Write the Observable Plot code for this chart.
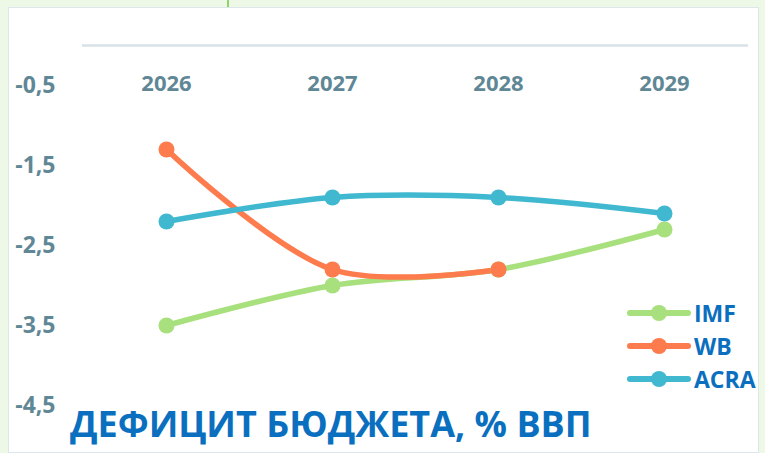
<!DOCTYPE html>
<html>
<head>
<meta charset="utf-8">
<script src="https://cdn.jsdelivr.net/npm/d3@7"></script>
<script src="https://cdn.jsdelivr.net/npm/@observablehq/plot@0.6"></script>
<style>
  html, body { margin: 0; padding: 0; background: #eef8e7; }
  #wrap { position: relative; width: 765px; height: 453px; overflow: hidden; background: #eef8e7; font-family: "Open Sans", sans-serif; }
  #panel { position: absolute; left: 8px; top: 7px; width: 751px; height: 446px; background: #fff; border: 1.5px solid #dde6ea; box-sizing: border-box; }
  #tick { position: absolute; left: 227px; top: 0; width: 2px; height: 7px; background: #8fd36a; }
  #chart { position: absolute; left: 0; top: 0; }
  #title { position: absolute; left: 70px; top: 399px; font-weight: 700; font-size: 36px; color: #0b6fbf; white-space: nowrap; letter-spacing: 0px; }
  #legend { position: absolute; left: 626px; top: 296px; }
  .row { display: flex; align-items: center; height: 33px; }
  .row span { font-weight: 700; font-size: 23px; color: #0b6fbf; margin-left: 2px; }
</style>
</head>
<body>
<div id="wrap">
  <div id="panel"></div>
  <div id="tick"></div>
  <div id="chart"></div>
  <div id="title"></div>
  <div id="legend"></div>
</div>
<script>
const years = [2026, 2027, 2028, 2029];
const imf  = [-3.5, -3.0, -2.8, -2.3];
const wb   = [-1.3, -2.8, -2.8, null];
const acra = [-2.2, -1.9, -1.9, -2.1];
const seriesNames = ["IMF", "WB", "ACRA"];
const seriesColors = ["#a7e07c", "#fd7b4d", "#3fb8d0"];
const yTicks = [-0.5, -1.5, -2.5, -3.5, -4.5];
const titleText = "ДЕФИЦИТ БЮДЖЕТА, % ВВП";

const seriesValues = [imf, wb, acra];
const rows = [];
seriesNames.forEach((name, i) => {
  years.forEach((yr, j) => {
    const v = seriesValues[i][j];
    if (v != null) rows.push({series: name, year: yr, value: v});
  });
});

const axisColor = "#5f8795";
const chart = Plot.plot({
  width: 765,
  height: 453,
  marginLeft: 82,
  marginRight: 17,
  marginTop: 45,
  marginBottom: 48,
  style: {background: "transparent", fontFamily: "Open Sans, sans-serif"},
  x: {type: "point", domain: years, padding: 0.5},
  y: {domain: [-4.5, 0]},
  color: {domain: seriesNames, range: seriesColors},
  marks: [
    Plot.ruleY([0], {stroke: "#d9e2e7", strokeWidth: 2.5}),
    Plot.axisY({ticks: yTicks, tickSize: 0, tickPadding: 27, tickFormat: d => d.toFixed(1).replace(".", ","),
      fill: axisColor, fontWeight: 700, fontSize: 23, label: null}),
    Plot.axisX({anchor: "top", tickSize: 0, tickPadding: -45, tickFormat: d => String(d),
      fill: axisColor, fontWeight: 700, fontSize: 22, label: null}),
    Plot.line(rows, {x: "year", y: "value", z: "series", stroke: "series", strokeWidth: 5.5, curve: "catmull-rom"}),
    Plot.dot(rows, {x: "year", y: "value", fill: "series", r: 8})
  ]
});
document.getElementById("chart").appendChild(chart);
document.getElementById("title").textContent = titleText;

const legend = document.getElementById("legend");
seriesNames.forEach((name, i) => {
  const row = document.createElement("div");
  row.className = "row";
  row.innerHTML = `<svg width="66" height="20"><line x1="4" y1="10" x2="62" y2="10" stroke="${seriesColors[i]}" stroke-width="6" stroke-linecap="round"/><circle cx="33" cy="10" r="8" fill="${seriesColors[i]}"/></svg><span>${name}</span>`;
  legend.appendChild(row);
});
</script>
</body>
</html>
